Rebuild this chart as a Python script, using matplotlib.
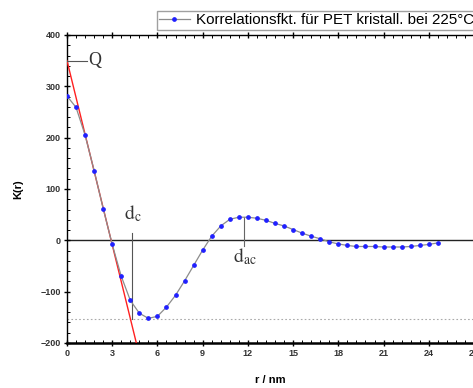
"""Korrelationsfunktion K(r) fuer PET, kristallisiert bei 225 C."""
import matplotlib
matplotlib.use("Agg")
import matplotlib.pyplot as plt
from matplotlib.ticker import MultipleLocator

# ── Daten ────────────────────────────────────────────────────────────────
r_nm = [0.0, 0.6, 1.2, 1.8, 2.4, 3.0, 3.6, 4.2, 4.8, 5.4, 6.0, 6.6, 7.2, 7.8,
        8.4, 9.0, 9.6, 10.2, 10.8, 11.4, 12.0, 12.6, 13.2, 13.8, 14.4, 15.0,
        15.6, 16.2, 16.8, 17.4, 18.0, 18.6, 19.2, 19.8, 20.4, 21.0, 21.6,
        22.2, 22.8, 23.4, 24.0, 24.6]
K_r = [281, 259, 205, 136, 62, -8, -70, -117, -142, -152, -148, -130, -107,
       -79, -49, -19, 8, 28, 41, 45, 45, 43, 39, 33, 28, 21, 14, 8, 3, -3,
       -7, -10, -12, -12, -12, -13, -13, -13, -12, -10, -8, -5]

tangent_r = [0.0, 4.6]      # Tangente bei r = 0
tangent_K = [350, -200]
Q_value = 350
d_c = 4.33
d_ac = 11.77
K_min = -153

x_ticks = [0, 3, 6, 9, 12, 15, 18, 21, 24, 27]
y_ticks = [-200, -100, 0, 100, 200, 300, 400]
legend_label = "Korrelationsfkt. für PET kristall. bei 225°C"

plt.rcParams["font.family"] = ["Liberation Sans", "DejaVu Sans"]
plt.rcParams["mathtext.fontset"] = "stix"

fig = plt.figure(figsize=(4.73, 3.88), dpi=100)
ax = fig.add_axes([67 / 473, 1 - 343 / 388, 407 / 473, 308 / 388])
ax.set_xlim(0, 27)
ax.set_ylim(-200, 400)

# Referenzlinien
ax.axhline(0, color="#222222", linewidth=1.0, zorder=1)
ax.axhline(K_min, color="#aaaaaa", linewidth=0.8, linestyle=(0, (1.5, 2)), zorder=1)

# Messkurve
ax.plot(r_nm, K_r, color="#8c8c8c", linewidth=0.9, marker="o", markersize=2.4,
        markerfacecolor="#2020ff", markeredgecolor="#2020ff", zorder=4,
        label=legend_label)

# Tangente
ax.plot(tangent_r, tangent_K, color="#ff2020", linewidth=1.0, zorder=3)

# Q
ax.plot([0, 1.3], [Q_value, Q_value], color="#555555", linewidth=0.8, zorder=3)
ax.text(1.4, Q_value, "Q", fontsize=13, family="Liberation Serif", ha="left",
        va="center", color="#333333")

# d_c
ax.plot([d_c, d_c], [K_min, 15], color="#555555", linewidth=0.8, zorder=3)
ax.text(3.8, 41, r"$\mathrm{d_c}$", fontsize=14, ha="left", va="baseline",
        color="#333333")

# d_ac
ax.plot([d_ac, d_ac], [45, -11], color="#666666", linewidth=0.8, zorder=3)
ax.text(11.0, -43, r"$\mathrm{d_{ac}}$", fontsize=14, ha="left", va="baseline",
        color="#333333")

# Achsen
ax.set_xticks(x_ticks)
ax.set_yticks(y_ticks)
ax.xaxis.set_minor_locator(MultipleLocator(0.6))
ax.yaxis.set_minor_locator(MultipleLocator(20))
ax.tick_params(which="major", direction="inout", length=5, width=1.0,
               labelsize=6.5, top=True, right=False, pad=2)
ax.tick_params(which="minor", direction="in", length=2.5, width=0.7,
               top=True, right=False)
for lab in ax.get_xticklabels() + ax.get_yticklabels():
    lab.set_fontweight("bold")
    lab.set_color("#333333")
for side in ("left", "top"):
    ax.spines[side].set_linewidth(1.0)
ax.spines["bottom"].set_linewidth(1.8)
ax.spines["right"].set_visible(False)

ax.set_xlabel("r / nm", fontsize=8, fontweight="bold", labelpad=12)
ax.set_ylabel("K(r)", fontsize=8, fontweight="bold", labelpad=12)

fig.legend(loc="upper left", bbox_to_anchor=(157 / 473, 1 - 11 / 388),
           fontsize=10.9, frameon=True, fancybox=False, edgecolor="#888888",
           handlelength=2.0, handletextpad=0.4, borderpad=0.15,
           borderaxespad=0.0, markerscale=1.0)

fig.savefig("out.png", dpi=100, facecolor="white")
